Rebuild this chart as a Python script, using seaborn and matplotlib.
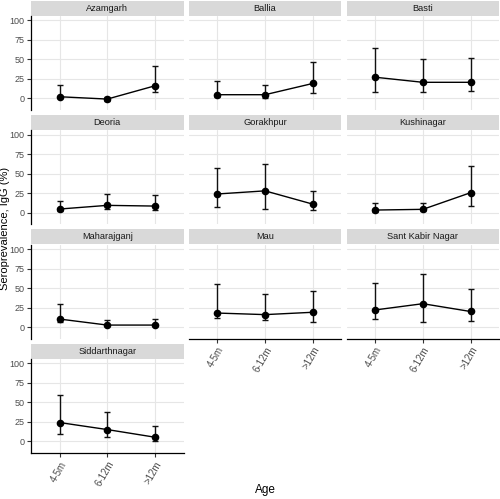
import numpy as np
import pandas as pd
import matplotlib
matplotlib.use('Agg')
import matplotlib.pyplot as plt
from matplotlib.patches import Rectangle
import seaborn as sns

# values
districts = ['Azamgarh', 'Ballia', 'Basti', 'Deoria', 'Gorakhpur', 'Kushinagar',
             'Maharajganj', 'Mau', 'Sant Kabir Nagar', 'Siddarthnagar']
ages = ['4-5m', '6-12m', '>12m']

est = [[2, -1, 16], [4.6, 4.6, 19], [27, 20.5, 20.5], [4.7, 9.4, 8.5],
       [24, 28, 11], [3.4, 4.3, 25.6], [10.3, 2.6, 2.6], [18, 16, 19],
       [22, 30, 20], [24.3, 15.3, 5.5]]
lower = [[0, -3.5, 7.7], [2, 1, 7], [8.5, 8, 9.5], [2, 4.2, 4],
         [7, 5, 4], [1.5, 2, 8], [6, 1, 1], [12, 8.5, 6],
         [10, 7, 8], [9.7, 6, 1]]
upper = [[17, 2, 42], [22.6, 17, 46], [64, 51, 52], [14.5, 24, 23],
         [57, 62, 28], [12.3, 13, 60], [29, 9, 10], [55, 43, 46],
         [56, 67.5, 49], [60, 38, 20.5]]

rows = []
for d, e, lo, hi in zip(districts, est, lower, upper):
    for i, a in enumerate(ages):
        rows.append({'district': d, 'age': a, 'pos': i, 'est': e[i], 'lo': lo[i], 'hi': hi[i]})
df = pd.DataFrame(rows)

sns.set_style('white')
plt.rcParams['font.family'] = ['Liberation Sans', 'DejaVu Sans']

g = sns.FacetGrid(df, col='district', col_wrap=3, col_order=districts,
                  sharex=True, sharey=True, height=1.3, aspect=1.3)


def draw(data, **kws):
    ax = plt.gca()
    ax.errorbar(data['pos'], data['est'],
                yerr=[data['est'] - data['lo'], data['hi'] - data['est']],
                fmt='none', ecolor='#111111', elinewidth=1.0, capsize=2.2, capthick=1.0, zorder=2)
    sns.lineplot(data=data, x='pos', y='est', color='black', lw=1.0,
                 marker='o', markersize=5.5, markeredgewidth=0, ax=ax, zorder=3)


g.map_dataframe(draw)
fig = g.figure
fig.set_size_inches(5.0, 4.99)

W, H = 500, 499
panel_w, panel_h, strip_h = 152.5, 94.0, 15.0
for i, ax in enumerate(g.axes.flat):
    r, c = divmod(i, 3)
    x0 = 31 + c * 157.8
    top = 16 + r * 114.4
    ax.set_position([x0 / W, 1 - (top + panel_h) / H, panel_w / W, panel_h / H])
    ax.set_xlim(-0.6, 2.6)
    ax.set_ylim(-15, 105.5)
    ax.set_xticks(range(3))
    ax.set_yticks([0, 25, 50, 75, 100])
    ax.grid(True, color='#E6E6E6', lw=0.8)
    ax.set_axisbelow(True)
    ax.set_title('')
    ax.set_xlabel('')
    ax.set_ylabel('')
    for s in ax.spines.values():
        s.set_visible(False)
    bottom = i >= 7
    left = c == 0
    ax.tick_params(axis='y', left=left, labelleft=left, length=3, width=0.8,
                   color='#333333', labelcolor='#4D4D4D', labelsize=6.5, pad=1.5)
    ax.tick_params(axis='x', bottom=bottom, labelbottom=bottom, length=3, width=0.8,
                   color='#333333', labelcolor='#4D4D4D', labelsize=7, pad=1.5)
    if left:
        ax.spines['left'].set_visible(True)
        ax.spines['left'].set_color('black')
        ax.spines['left'].set_linewidth(0.9)
    if bottom:
        ax.spines['bottom'].set_visible(True)
        ax.spines['bottom'].set_color('black')
        ax.spines['bottom'].set_linewidth(0.9)
        ax.set_xticklabels(ages, rotation=60, ha='right', rotation_mode='anchor')
    # facet strip
    sh = strip_h / panel_h
    ax.add_patch(Rectangle((0, 1.005), 1, sh, transform=ax.transAxes,
                           facecolor='#D9D9D9', edgecolor='none', clip_on=False))
    ax.text(0.5, 1.005 + sh / 2, districts[i], transform=ax.transAxes,
            ha='center', va='center', fontsize=6.7, color='#1A1A1A')

fig.text(5 / W, 1 - 228 / H, 'Seroprevalence, IgG (%)', rotation=90,
         ha='center', va='center', fontsize=8, color='black')
fig.text(265 / W, 1 - 490 / H, 'Age', ha='center', va='center', fontsize=8.5, color='black')

fig.savefig('out.png', dpi=100)
